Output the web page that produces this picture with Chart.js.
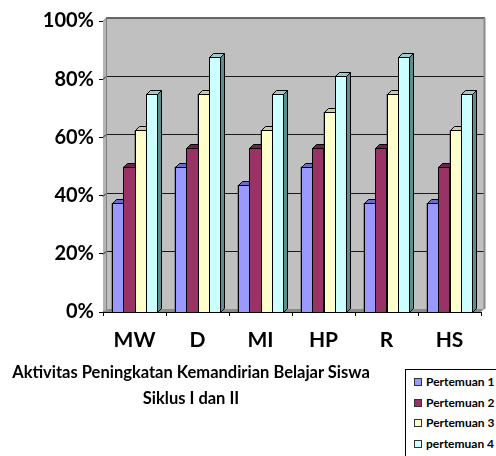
<!DOCTYPE html>
<html>
<head>
<meta charset="utf-8">
<script src="https://cdn.jsdelivr.net/npm/chart.js@4/dist/chart.umd.min.js"></script>
<style>
  html, body { margin: 0; padding: 0; background: #fff; }
  #wrap { position: relative; width: 496px; height: 456px; overflow: hidden; font-family: Lato, "Open Sans", sans-serif; }
  #chart { position: absolute; left: 0; top: 0; }
  #caption { position: absolute; left: 0; width: 382px; top: 359px; text-align: center; font-weight: bold; font-size: 16.5px; line-height: 26px; color: #000; }
  #legend { position: absolute; left: 405px; top: 369px; width: 100px; height: 100px; border: 1px solid #000; box-sizing: border-box; background: #fff; }
  #legend .item { position: absolute; left: 8px; height: 14px; font-weight: bold; font-size: 12px; line-height: 14px; white-space: nowrap; color: #000; }
  #legend .sw { display: inline-block; width: 6px; height: 6px; border: 1px solid #333; margin-right: 4px; vertical-align: 0px; }
</style>
</head>
<body>
<div id="wrap">
  <canvas id="chart" width="496" height="456"></canvas>
  <div id="caption">Aktivitas Peningkatan Kemandirian Belajar Siswa<br>Siklus I dan II</div>
  <div id="legend"></div>
</div>
<script>
// Indicators observed in each meeting
const categories = ['MW', 'D', 'MI', 'HP', 'R', 'HS'];
const seriesNames = ['Pertemuan 1', 'Pertemuan 2', 'Pertemuan 3', 'pertemuan 4'];

// Percentage of students per indicator
const pertemuan1 = [37.5, 50, 43.75, 50, 37.5, 37.5];
const pertemuan2 = [50, 56.25, 56.25, 56.25, 56.25, 50];
const pertemuan3 = [62.5, 75, 62.5, 68.75, 75, 62.5];
const pertemuan4 = [75, 87.5, 75, 81.25, 87.5, 75];

const yTicks = [0, 20, 40, 60, 80, 100];

// Front, top and side colours of each series
const frontColors = ['#9999FF', '#993366', '#FFFFCC', '#CCFFFF'];
const topColors = ['#6B6BCC', '#6B2447', '#CCCC99', '#99CCCC'];
const sideColors = ['#6B6BB3', '#5C1F3D', '#B3B38F', '#5F8C8C'];

const DEPTH_BAR = 4;
const DEPTH_WALL = 3;
const FONT = 'Lato, "Open Sans", sans-serif';

// Back wall, side wall, floor and gridlines behind the bars
const wallPlugin = {
  id: 'wall',
  beforeDatasetsDraw(chart) {
    const { ctx, chartArea: a, scales } = chart;
    const d = DEPTH_WALL;
    ctx.save();
    ctx.fillStyle = '#C0C0C0';
    ctx.fillRect(a.left + d, a.top - d, a.right - a.left, a.bottom - a.top);
    ctx.beginPath();
    ctx.moveTo(a.left, a.top);
    ctx.lineTo(a.left + d, a.top - d);
    ctx.lineTo(a.left + d, a.bottom - d);
    ctx.lineTo(a.left, a.bottom);
    ctx.closePath();
    ctx.fillStyle = '#B4B4B4';
    ctx.fill();
    ctx.beginPath();
    ctx.moveTo(a.left, a.bottom);
    ctx.lineTo(a.right, a.bottom);
    ctx.lineTo(a.right + d, a.bottom - d);
    ctx.lineTo(a.left + d, a.bottom - d);
    ctx.closePath();
    ctx.fillStyle = '#8C8C8C';
    ctx.fill();
    ctx.lineWidth = 1;
    ctx.strokeStyle = '#1A1A1A';
    yTicks.forEach(v => {
      if (v === 0 || v === 100) return;
      const y = Math.round(scales.y.getPixelForValue(v)) + 0.5;
      ctx.beginPath();
      ctx.moveTo(a.left, y);
      ctx.lineTo(a.left + d, y - d);
      ctx.lineTo(a.right + d, y - d);
      ctx.stroke();
    });
    ctx.strokeStyle = '#666666';
    ctx.lineWidth = 2;
    ctx.beginPath();
    ctx.moveTo(a.left + d, a.top - d);
    ctx.lineTo(a.right + d + 1, a.top - d);
    ctx.stroke();
    ctx.strokeStyle = '#8A8A8A';
    ctx.beginPath();
    ctx.moveTo(a.right + d + 0.5, a.top - d);
    ctx.lineTo(a.right + d + 0.5, a.bottom - d);
    ctx.stroke();
    ctx.strokeStyle = '#808080';
    ctx.lineWidth = 1;
    ctx.beginPath();
    ctx.moveTo(a.left + 0.5, a.top);
    ctx.lineTo(a.left + d + 0.5, a.top - d);
    ctx.lineTo(a.left + d + 0.5, a.bottom - d);
    ctx.stroke();
    ctx.restore();
  }
};

// Bars drawn as boxes, series left to right so each bar hides its neighbour's side
const bar3dPlugin = {
  id: 'bar3d',
  afterDatasetsDraw(chart) {
    const { ctx } = chart;
    const d = DEPTH_BAR;
    ctx.save();
    ctx.lineWidth = 1;
    ctx.strokeStyle = '#000';
    chart.data.datasets.forEach((ds, i) => {
      const meta = chart.getDatasetMeta(i);
      meta.data.forEach(bar => {
        const p = bar.getProps(['x', 'y', 'base', 'width'], true);
        const x0 = Math.round(p.x - p.width / 2) + 0.5;
        const x1 = Math.round(p.x + p.width / 2) + 0.5;
        const top = Math.round(p.y) + 0.5, bottom = Math.round(p.base) + 0.5;
        // front
        ctx.fillStyle = frontColors[i];
        ctx.fillRect(x0, top, x1 - x0, bottom - top);
        ctx.strokeRect(x0, top, x1 - x0, bottom - top);
        // side
        ctx.beginPath();
        ctx.moveTo(x1, top);
        ctx.lineTo(x1 + d, top - d);
        ctx.lineTo(x1 + d, bottom - d);
        ctx.lineTo(x1, bottom);
        ctx.closePath();
        ctx.fillStyle = sideColors[i];
        ctx.fill();
        ctx.stroke();
        // top
        ctx.beginPath();
        ctx.moveTo(x0, top);
        ctx.lineTo(x0 + d, top - d);
        ctx.lineTo(x1 + d, top - d);
        ctx.lineTo(x1, top);
        ctx.closePath();
        ctx.fillStyle = topColors[i];
        ctx.fill();
        ctx.stroke();
      });
    });
    ctx.restore();
  }
};

const seriesValues = [pertemuan1, pertemuan2, pertemuan3, pertemuan4];

const chart = new Chart(document.getElementById('chart'), {
  type: 'bar',
  data: {
    labels: categories,
    datasets: seriesNames.map((name, i) => ({
      label: name,
      data: seriesValues[i],
      backgroundColor: frontColors[i],
      borderColor: '#000',
      borderWidth: 1,
      borderSkipped: false,
      categoryPercentage: 0.73,
      barPercentage: 1.0
    }))
  },
  options: {
    responsive: false,
    animation: false,
    devicePixelRatio: 1,
    layout: { padding: { top: 21, right: 15, left: 0, bottom: 0 } },
    plugins: {
      legend: { display: false },
      tooltip: { enabled: false }
    },
    scales: {
      x: {
        afterFit(s) { s.height = 144; },
        grid: { drawOnChartArea: false, drawTicks: true, tickLength: 4, color: '#000', offset: true },
        border: { color: '#000', width: 1 },
        ticks: { color: '#000', padding: 12, font: { family: FONT, size: 21, weight: 'bold' } }
      },
      y: {
        min: 0,
        max: 100,
        afterFit(s) { s.width = 103; },
        afterBuildTicks(s) { s.ticks = yTicks.map(v => ({ value: v })); },
        grid: { drawOnChartArea: false, drawTicks: true, tickLength: 4, color: '#000' },
        border: { color: '#000', width: 1 },
        ticks: {
          color: '#000',
          padding: 5,
          font: { family: FONT, size: 20, weight: 'bold' },
          callback: v => v + '%'
        }
      }
    }
  },
  plugins: [wallPlugin, bar3dPlugin]
});

// Legend built from the chart's datasets
const legend = document.getElementById('legend');
chart.data.datasets.forEach((ds, i) => {
  const item = document.createElement('div');
  item.className = 'item';
  item.style.top = (5 + i * 20.6) + 'px';
  const sw = document.createElement('span');
  sw.className = 'sw';
  sw.style.background = ds.backgroundColor;
  item.appendChild(sw);
  item.appendChild(document.createTextNode(ds.label));
  legend.appendChild(item);
});
</script>
</body>
</html>
